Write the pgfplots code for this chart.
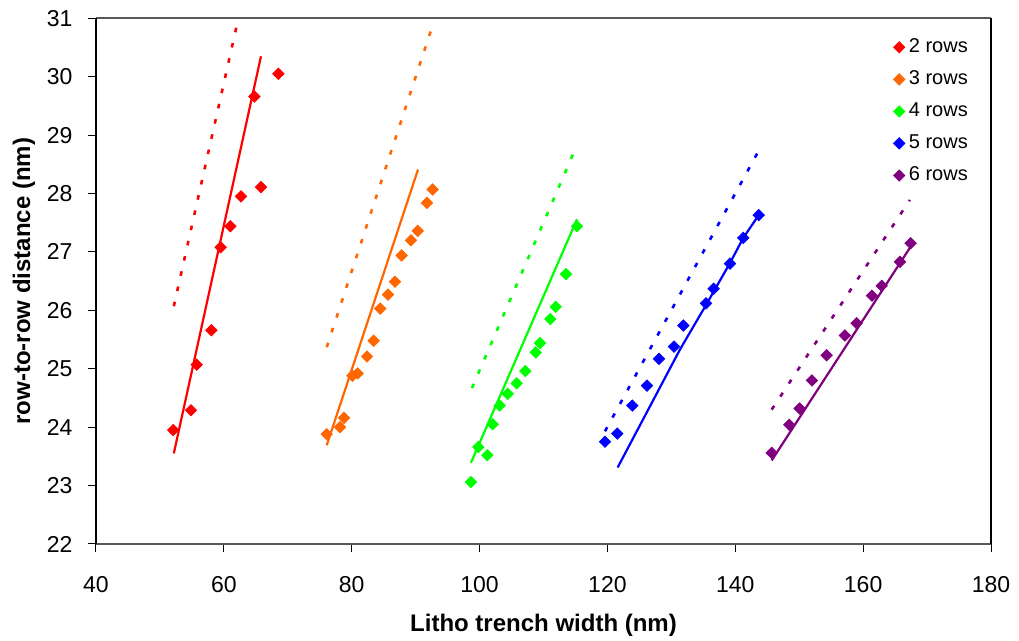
\documentclass[border=0pt]{standalone}
\usepackage{fontspec}
\setmainfont{Liberation Sans}
\usepackage{pgfplots}
\pgfplotsset{compat=1.18}
\definecolor{rtwo}{HTML}{FF0000}
\definecolor{rthree}{HTML}{FF6600}
\definecolor{rfour}{HTML}{00FF00}
\definecolor{rfive}{HTML}{0000FF}
\definecolor{rsix}{HTML}{800080}

\pgfplotsset{
  dmark/.style={only marks, mark=square*, mark size=2pt, mark options={rotate=45, draw=#1, fill=#1}, color=#1},
  fitline/.style={no marks, line width=1.1pt, color=#1, forget plot},
  dotline/.style={no marks, line width=1.3pt, color=#1, dash pattern=on 2.3pt off 5.5pt, forget plot},
}

\begin{document}
\begin{tikzpicture}
\begin{axis}[
  scale only axis,
  width=447.5pt, height=262.85pt,
  xmin=40, xmax=180, ymin=22, ymax=31,
  xtick={40,60,...,180}, ytick={22,23,...,31},
  tick align=outside, xtick pos=bottom, ytick pos=left,
  major tick length=4pt,
  separate axis lines,
  x axis line style={black!65, line width=1pt},
  y axis line style={black, line width=0.6pt},
  tick style={black, line width=0.5pt},
  ticklabel style={font=\fontsize{11.5}{13}\selectfont},
  /pgf/number format/assume math mode=true,
  xticklabel style={yshift=-8.5pt},
  yticklabel style={xshift=-4.2pt},
  xlabel={Litho trench width (nm)},
  ylabel={row-to-row distance (nm)},
  label style={font=\fontsize{12}{14}\selectfont\bfseries},
  xlabel style={at={(axis description cs:0.5,-0.154)}, anchor=center},
  ylabel style={at={(axis description cs:-0.0804,0.5)}, anchor=center},
  legend style={draw=none, fill=none, at={(0.884,0.977)}, anchor=north west,
    font=\fontsize{10}{12}\selectfont, row sep=3.6pt},
  legend cell align=left,
]
% fitted lines (solid) and dotted lines
\addplot[fitline=rtwo] coordinates {(52.17,23.55) (65.81,30.35)};
\addplot[dotline=rtwo] coordinates {(52.17,26.07) (62.27,31.0)};
\addplot[fitline=rthree] coordinates {(76.09,23.69) (90.37,28.41)};
\addplot[dotline=rthree] coordinates {(76.09,25.37) (92.51,30.83)};
\addplot[fitline=rfour] coordinates {(98.65,23.39) (115.24,27.56)};
\addplot[dotline=rfour] coordinates {(98.81,24.67) (115.24,28.83)};
\addplot[fitline=rfive] coordinates {(121.60,23.31) (131.35,25.33) (135.52,26.11) (139.17,26.81) (141.25,27.24) (143.66,27.63)};
\addplot[dotline=rfive] coordinates {(119.62,23.93) (143.50,28.70)};
\addplot[fitline=rsix] coordinates {(145.69,23.43) (167.43,27.09)};
\addplot[dotline=rsix] coordinates {(145.69,24.30) (167.31,27.89)};

% measured points
\addplot[dmark=rtwo] coordinates {
  (52.07,23.95) (54.86,24.29) (55.75,25.07) (58.04,25.66) (59.50,27.08)
  (61.01,27.44) (62.68,27.95) (65.81,28.11) (64.77,29.66) (68.53,30.05)};
\addlegendentry{2 rows}
\addplot[dmark=rthree] coordinates {
  (76.08,23.88) (78.17,24.0) (78.80,24.16) (80.10,24.88) (80.93,24.92)
  (82.39,25.21) (83.43,25.48) (84.47,26.03) (85.67,26.27) (86.77,26.49)
  (87.81,26.94) (89.27,27.20) (90.32,27.36) (91.77,27.84) (92.66,28.07)};
\addlegendentry{3 rows}
\addplot[dmark=rfour] coordinates {
  (98.65,23.06) (99.80,23.66) (101.21,23.52) (102.05,24.05) (103.15,24.37)
  (104.40,24.57) (105.80,24.75) (107.16,24.96) (108.77,25.28) (109.45,25.44)
  (111.07,25.85) (111.90,26.06) (113.52,26.62) (115.24,27.44)};
\addlegendentry{4 rows}
\addplot[dmark=rfive] coordinates {
  (119.62,23.75) (121.55,23.89) (123.89,24.37) (126.19,24.71) (128.06,25.17)
  (130.41,25.38) (131.87,25.74) (135.42,26.12) (136.62,26.37) (139.17,26.80)
  (141.25,27.24) (143.66,27.63)};
\addlegendentry{5 rows}
\addplot[dmark=rsix] coordinates {
  (145.69,23.56) (148.45,24.04) (150.07,24.32) (151.99,24.80) (154.29,25.23)
  (157.15,25.57) (158.98,25.78) (161.38,26.25) (162.90,26.42) (165.76,26.83)
  (167.43,27.15)};
\addlegendentry{6 rows}

\coordinate (sw) at (rel axis cs:0,0);
\coordinate (ne) at (rel axis cs:1,1);
\end{axis}
\pgfresetboundingbox
\path[use as bounding box] ([shift={(-48pt,-48.5pt)}]sw) rectangle ([shift={(14pt,9.15pt)}]ne);
\end{tikzpicture}
\end{document}
